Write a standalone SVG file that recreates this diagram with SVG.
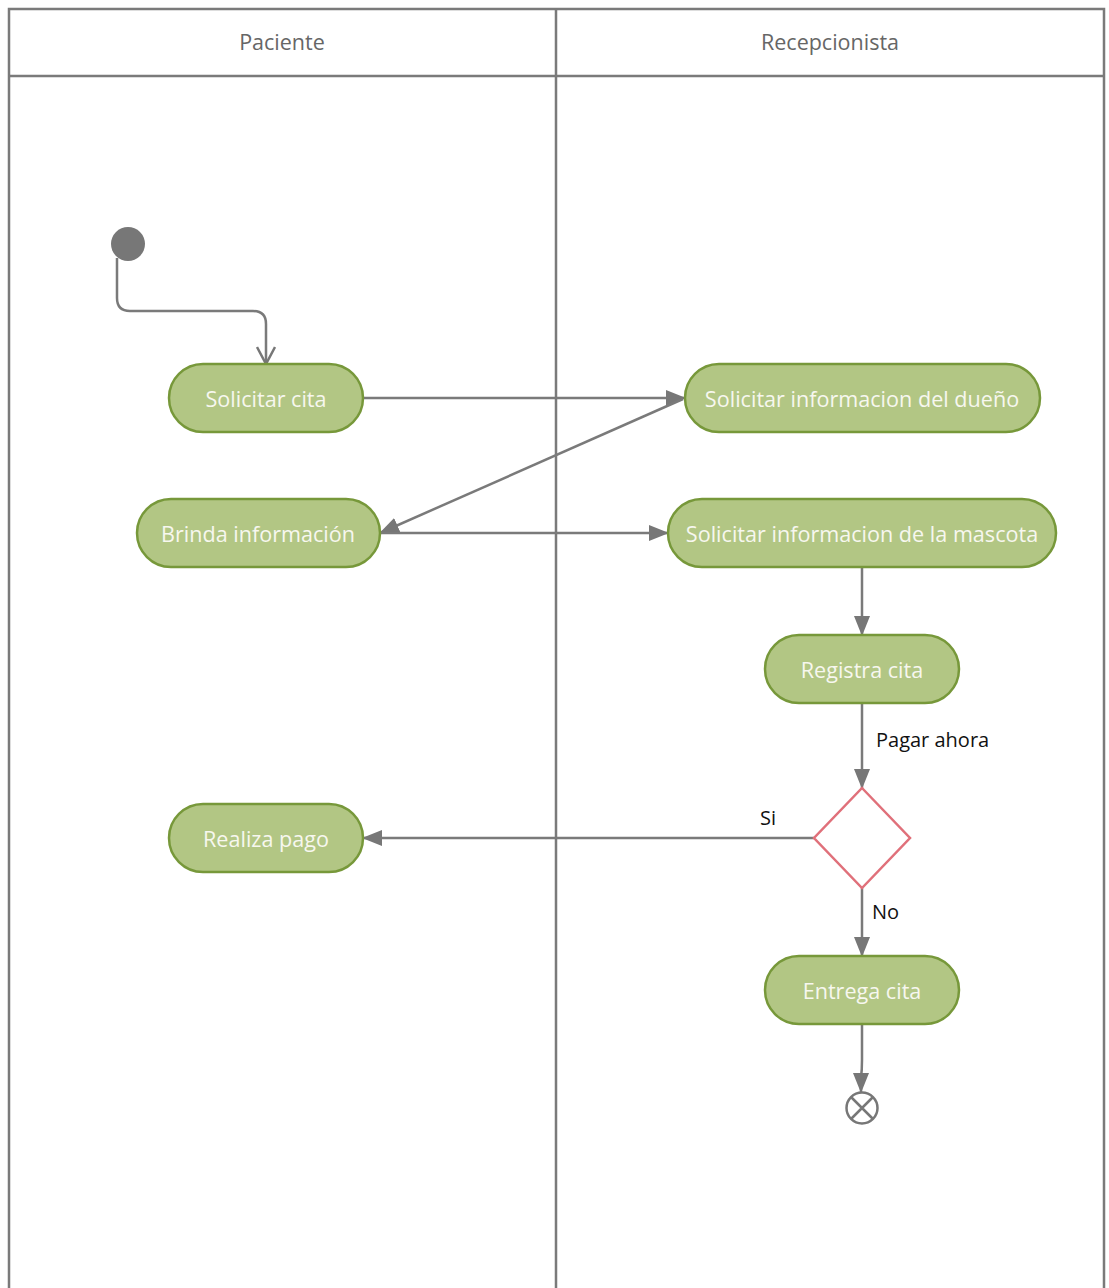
<svg xmlns="http://www.w3.org/2000/svg" width="1109" height="1288" viewBox="0 0 1109 1288">
<defs>
<style>
.lane{fill:none;stroke:#7a7a7a;stroke-width:2.5}
.head{font-family:"Open Sans","Noto Sans",sans-serif;font-size:21.5px;fill:#666;text-anchor:middle}
.act{fill:#b2c684;stroke:#77983a;stroke-width:2.5}
.at{font-family:"Open Sans","Noto Sans",sans-serif;font-size:21.6px;fill:#f7f7ef;text-anchor:middle;dominant-baseline:central}
.cn{fill:none;stroke:#7a7a7a;stroke-width:2.5}
.lbl{font-family:"Open Sans","Noto Sans",sans-serif;font-size:20px;fill:#111}
</style>
<marker id="ah" viewBox="0 0 20 16" refX="19" refY="8" markerWidth="20" markerHeight="16" markerUnits="userSpaceOnUse" orient="auto">
<path d="M0,0 L20,8 L0,16 Z" fill="#777"/>
</marker>
<marker id="oh" viewBox="0 0 20 20" refX="19" refY="10" markerWidth="20" markerHeight="20" markerUnits="userSpaceOnUse" orient="auto">
<path d="M2,1 L19,10 L2,19" fill="none" stroke="#777" stroke-width="2.5"/>
</marker>
</defs>
<rect width="1109" height="1288" fill="#fff"/>
<g id="lanes">
<path class="lane" d="M9,1290 V9 H1104 V1290"/>
<line class="lane" x1="9" y1="76" x2="1104" y2="76"/>
<line class="lane" x1="556" y1="9" x2="556" y2="1290"/>
<text class="head" x="282" y="50">Paciente</text>
<text class="head" x="830" y="50">Recepcionista</text>
</g>
<g id="connectors">
<path class="cn" d="M117,258 V298 Q117,311 130,311 H253 Q266,311 266,324 V364" marker-end="url(#oh)"/>
<line class="cn" x1="363" y1="398" x2="685" y2="398" marker-end="url(#ah)"/>
<line class="cn" x1="683" y1="399" x2="380" y2="533" marker-end="url(#ah)"/>
<line class="cn" x1="380" y1="533" x2="668" y2="533" marker-end="url(#ah)"/>
<line class="cn" x1="862" y1="567" x2="862" y2="635" marker-end="url(#ah)"/>
<line class="cn" x1="862" y1="703" x2="862" y2="788" marker-end="url(#ah)"/>
<text class="lbl" x="876" y="747">Pagar ahora</text>
<line class="cn" x1="814" y1="838" x2="363" y2="838" marker-end="url(#ah)"/>
<text class="lbl" x="760" y="825">Si</text>
<line class="cn" x1="862" y1="888" x2="862" y2="956" marker-end="url(#ah)"/>
<text class="lbl" x="872" y="919">No</text>
<path class="cn" d="M862,1024 V1060 Q862,1070 861,1078 V1092" marker-end="url(#ah)"/>
</g>
<g id="start"><circle cx="128" cy="244" r="17" fill="#777"/></g>
<g id="solicitar-cita"><rect class="act" x="169" y="364" width="194" height="68" rx="34"/><text class="at" x="266" y="398">Solicitar cita</text></g>
<g id="info-dueno"><rect class="act" x="685" y="364" width="355" height="68" rx="34"/><text class="at" x="862" y="398">Solicitar informacion del dueño</text></g>
<g id="brinda"><rect class="act" x="137" y="499" width="243" height="68" rx="34"/><text class="at" x="258" y="533">Brinda información</text></g>
<g id="info-mascota"><rect class="act" x="668" y="499" width="388" height="68" rx="34"/><text class="at" x="862" y="533">Solicitar informacion de la mascota</text></g>
<g id="registra"><rect class="act" x="765" y="635" width="194" height="68" rx="34"/><text class="at" x="862" y="669">Registra cita</text></g>
<g id="decision"><path d="M862,788 L910,838 L862,888 L814,838 Z" fill="#fff" stroke="#e0707a" stroke-width="2.5"/></g>
<g id="realiza-pago"><rect class="act" x="169" y="804" width="194" height="68" rx="34"/><text class="at" x="266" y="838">Realiza pago</text></g>
<g id="entrega"><rect class="act" x="765" y="956" width="194" height="68" rx="34"/><text class="at" x="862" y="990">Entrega cita</text></g>
<g id="end"><circle cx="862" cy="1108" r="15.5" fill="#fff" stroke="#777" stroke-width="2.5"/><path d="M851,1097 L873,1119 M873,1097 L851,1119" stroke="#777" stroke-width="2.5"/></g>
</svg>
